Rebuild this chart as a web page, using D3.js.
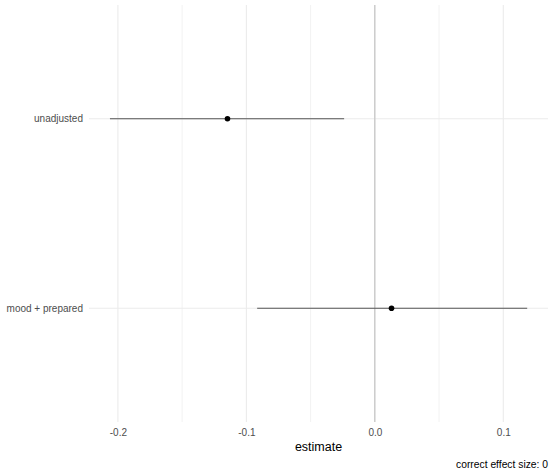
<!DOCTYPE html>
<html>
<head>
<meta charset="utf-8">
<script src="https://cdn.jsdelivr.net/npm/d3@7"></script>
<style>
  html, body { margin: 0; padding: 0; background: #fff; }
  svg { display: block; font-family: "Liberation Sans", Arial, sans-serif; }
</style>
</head>
<body>
<svg id="chart" width="554" height="475"></svg>
<script>
const models = ["unadjusted", "mood + prepared"];
const estimates = [-0.1147, 0.0130];
const lowers = [-0.2062, -0.0916];
const uppers = [-0.0239, 0.1186];
const majorTicks = [-0.2, -0.1, 0.0, 0.1];
const minorTicks = [-0.15, -0.05, 0.05];
const trueEffect = 0;
const xTitle = "estimate";
const caption = "correct effect size: 0";

const data = models.map((m, i) => ({ model: m, est: estimates[i], lo: lowers[i], hi: uppers[i] }));

const svg = d3.select("#chart");
const panel = { left: 89, right: 548, top: 5, bottom: 422 };

const x = d3.scaleLinear().domain([-0.2225, 0.1348]).range([panel.left, panel.right]);
const y = d3.scalePoint().domain(models).range([panel.top, panel.bottom]).padding(0.6);

// minor vertical gridlines
svg.append("g").selectAll("line").data(minorTicks).join("line")
  .attr("x1", d => x(d)).attr("x2", d => x(d))
  .attr("y1", panel.top).attr("y2", panel.bottom)
  .attr("stroke", "#f2f2f2").attr("stroke-width", 1);

// major vertical gridlines
svg.append("g").selectAll("line").data(majorTicks).join("line")
  .attr("x1", d => x(d)).attr("x2", d => x(d))
  .attr("y1", panel.top).attr("y2", panel.bottom)
  .attr("stroke", "#ebebeb").attr("stroke-width", 1.1);

// major horizontal gridlines
svg.append("g").selectAll("line").data(models).join("line")
  .attr("x1", panel.left).attr("x2", panel.right)
  .attr("y1", d => y(d)).attr("y2", d => y(d))
  .attr("stroke", "#ebebeb").attr("stroke-width", 1.1);

// reference line at true effect
svg.append("line")
  .attr("x1", x(trueEffect)).attr("x2", x(trueEffect))
  .attr("y1", panel.top).attr("y2", panel.bottom)
  .attr("stroke", "#bdbdbd").attr("stroke-width", 1);

// x axis (labels only)
const xAxis = d3.axisBottom(x).tickValues(majorTicks).tickSize(0).tickPadding(0)
  .tickFormat(d3.format(".1f"));
const gx = svg.append("g").attr("transform", `translate(0,${panel.bottom})`).call(xAxis);
gx.select(".domain").remove();
gx.selectAll("text")
  .attr("dy", null).attr("y", 14)
  .attr("fill", "#4d4d4d").style("font-size", "10px")
  .style("font-family", "'Liberation Sans', Arial, sans-serif")
  .text(d => d === 0 ? "0.0" : d3.format(".1f")(d).replace("−", "-"));

// y axis (labels only)
const yAxis = d3.axisLeft(y).tickSize(0).tickPadding(6);
const gy = svg.append("g").attr("transform", `translate(${panel.left},0)`).call(yAxis);
gy.select(".domain").remove();
gy.selectAll("text")
  .attr("fill", "#4d4d4d").style("font-size", "10px")
  .style("font-family", "'Liberation Sans', Arial, sans-serif");

// error bars
svg.append("g").selectAll("line").data(data).join("line")
  .attr("x1", d => x(d.lo)).attr("x2", d => x(d.hi))
  .attr("y1", d => y(d.model)).attr("y2", d => y(d.model))
  .attr("stroke", "#555").attr("stroke-width", 1.1);

// points
svg.append("g").selectAll("circle").data(data).join("circle")
  .attr("cx", d => x(d.est)).attr("cy", d => y(d.model))
  .attr("r", 2.8).attr("fill", "#000");

// axis title
svg.append("text")
  .attr("x", (panel.left + panel.right) / 2).attr("y", 451)
  .attr("text-anchor", "middle").attr("fill", "#000")
  .style("font-size", "12.5px").text(xTitle);

// caption
svg.append("text")
  .attr("x", 548).attr("y", 468)
  .attr("text-anchor", "end").attr("fill", "#000")
  .style("font-size", "10.3px").text(caption);
</script>
</body>
</html>
